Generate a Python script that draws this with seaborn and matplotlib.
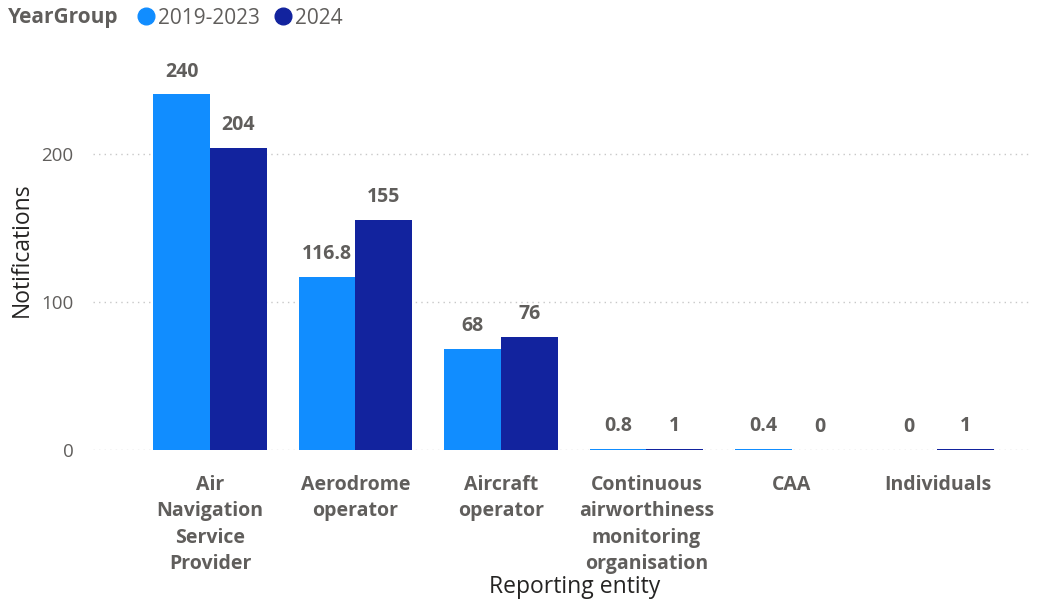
import matplotlib
matplotlib.use("Agg")
import matplotlib.pyplot as plt
from matplotlib.lines import Line2D
import seaborn as sns
import pandas as pd

categories = ["Air\nNavigation\nService\nProvider", "Aerodrome\noperator", "Aircraft\noperator",
              "Continuous\nairworthiness\nmonitoring\norganisation", "CAA", "Individuals"]
groups = ["2019-2023", "2024"]
values_2019_2023 = [240, 116.8, 68, 0.8, 0.4, 0]
values_2024 = [204, 155, 76, 1, 0, 1]
colors = ["#118DFF", "#12239E"]

df = pd.DataFrame({
    "Reporting entity": categories * 2,
    "YearGroup": [groups[0]] * len(categories) + [groups[1]] * len(categories),
    "Notifications": values_2019_2023 + values_2024,
})

sns.set_theme(style="white")
plt.rcParams["font.family"] = ["Open Sans", "DejaVu Sans"]

fig = plt.figure(figsize=(10.43, 6.01), dpi=100)
ax = fig.add_axes([93 / 1043, 1 - 450 / 601, (1030 - 93) / 1043, 400 / 601])

sns.barplot(data=df, x="Reporting entity", y="Notifications", hue="YearGroup",
            palette=colors, width=0.78, saturation=1, ax=ax, legend=False,
            edgecolor="none", linewidth=0)

ax.set_xlim(-0.804, 5.636)
ax.set_ylim(0, 270)
ax.set_yticks([0, 100, 200])
ax.grid(axis="y", linestyle=(0, (1, 3)), color="#C8C8C8", linewidth=1)
ax.set_axisbelow(True)
for s in ax.spines.values():
    s.set_visible(False)

ax.tick_params(axis="y", labelsize=13.5, labelcolor="#605E5C", length=0, pad=14)
ax.tick_params(axis="x", length=0, pad=18)
for lbl in ax.get_xticklabels():
    lbl.set_fontsize(14)
    lbl.set_fontweight("bold")
    lbl.set_color("#605E5C")
    lbl.set_linespacing(1.42)
    lbl.set_va("top")

ax.set_ylabel("Notifications", fontsize=16.5, color="#252423", ha="center", va="center")
ax.yaxis.set_label_coords(-0.0758, 0.5)
ax.set_xlabel("Reporting entity", fontsize=16.5, color="#252423", ha="center", va="center")
ax.xaxis.set_label_coords(0.514, -0.3425)

for cont in ax.containers:
    for bar, v in zip(cont, cont.datavalues):
        txt = f"{v:g}"
        ax.annotate(txt, (bar.get_x() + bar.get_width() / 2, bar.get_height()),
                    xytext=(0, 16.5), textcoords="offset points", ha="center", va="center",
                    fontsize=14, fontweight="bold", color="#605E5C")

fig.text(8 / 1043, 1 - 18 / 601, "YearGroup", fontsize=15, fontweight="bold",
         color="#605E5C", va="center", ha="left")
handles = [Line2D([0], [0], marker="o", linestyle="none", markersize=12,
                  markerfacecolor=c, markeredgecolor=c) for c in colors]
fig.legend(handles, groups, loc="center left", bbox_to_anchor=(133 / 1043, 1 - 18 / 601),
           ncol=2, frameon=False, fontsize=15, handletextpad=0.0, columnspacing=0.5,
           handlelength=1.2, labelcolor="#605E5C", borderaxespad=0, borderpad=0)

fig.savefig("out.png", dpi=100)
